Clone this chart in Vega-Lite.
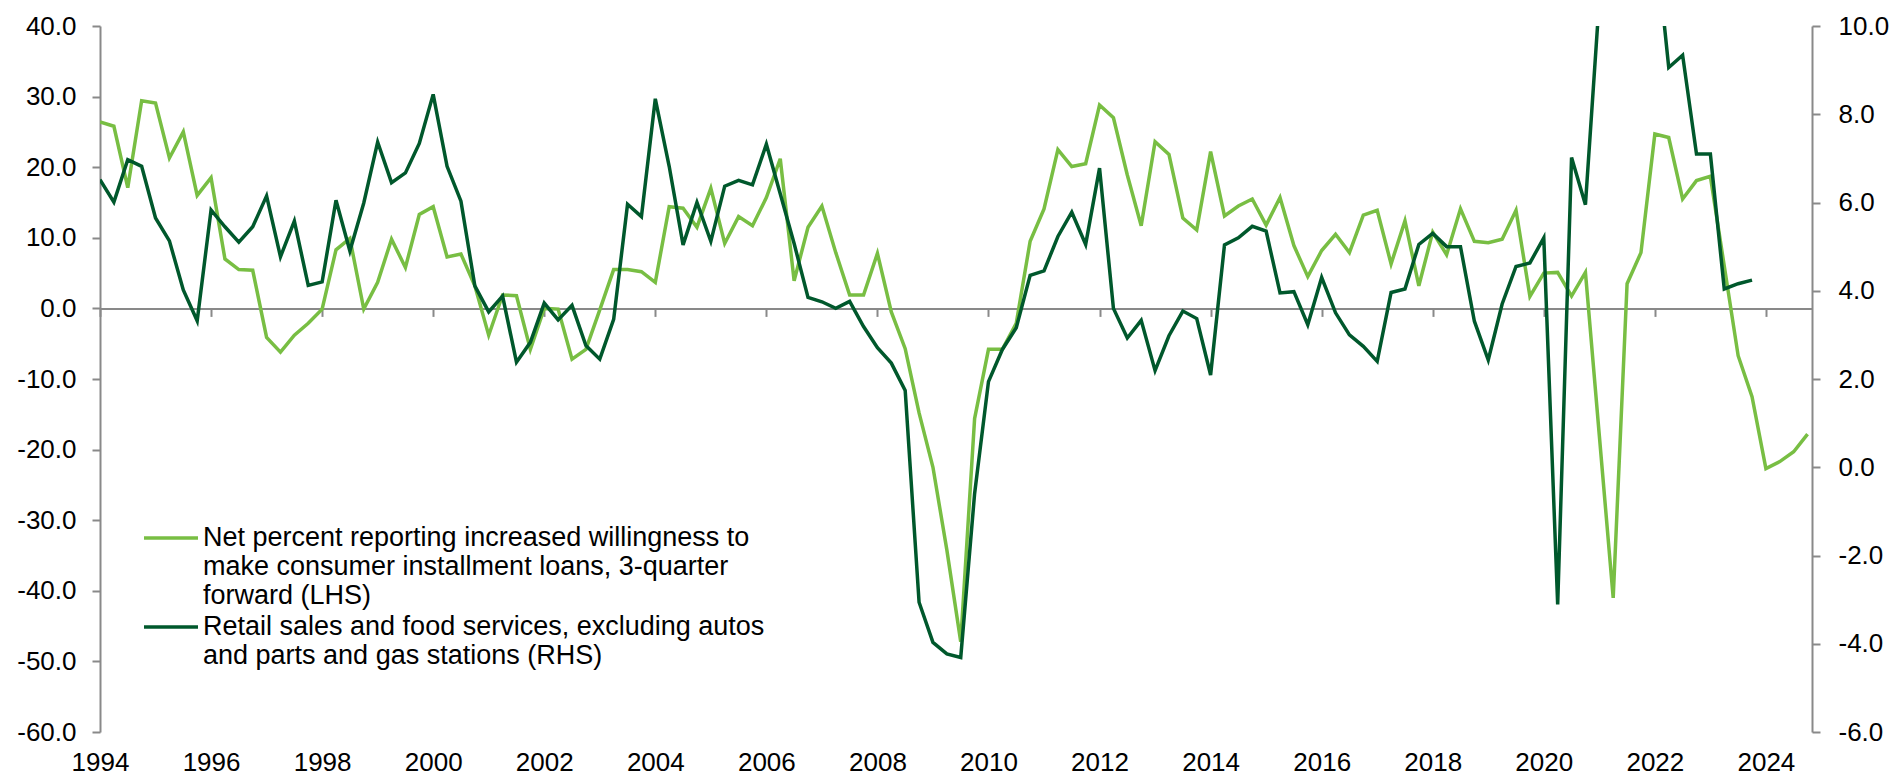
{
  "$schema": "https://vega.github.io/schema/vega-lite/v6.json",
  "width": 1712,
  "height": 706,
  "autosize": {"type": "none"},
  "padding": {"left": 100, "top": 26, "right": 78, "bottom": 46},
  "background": "white",
  "config": {
    "view": {"stroke": null},
    "axis": {"labelFont": "Liberation Sans", "labelFontSize": 26, "labelColor": "#000000", "domainColor": "#898989", "tickColor": "#898989", "domainWidth": 2, "tickWidth": 2, "grid": false, "title": null},
    "legend": {"orient": "none", "title": null, "symbolType": "stroke", "symbolSize": 2916, "symbolStrokeWidth": 3.5, "labelFont": "Liberation Sans", "labelFontSize": 27, "labelColor": "#000000", "labelLimit": 2000, "padding": 0, "labelOffset": 3}
  },
  "data": {"values": [
    {"time":1994.0,"series":"loans","value":26.4},{"time":1994.25,"series":"loans","value":25.8},{"time":1994.5,"series":"loans","value":17.1},{"time":1994.75,"series":"loans","value":29.4},
    {"time":1995.0,"series":"loans","value":29.1},{"time":1995.25,"series":"loans","value":21.3},{"time":1995.5,"series":"loans","value":25.0},{"time":1995.75,"series":"loans","value":16.0},
    {"time":1996.0,"series":"loans","value":18.5},{"time":1996.25,"series":"loans","value":7.0},{"time":1996.5,"series":"loans","value":5.5},{"time":1996.75,"series":"loans","value":5.4},
    {"time":1997.0,"series":"loans","value":-4.1},{"time":1997.25,"series":"loans","value":-6.2},{"time":1997.5,"series":"loans","value":-3.8},{"time":1997.75,"series":"loans","value":-2.1},
    {"time":1998.0,"series":"loans","value":-0.1},{"time":1998.25,"series":"loans","value":8.3},{"time":1998.5,"series":"loans","value":9.9},{"time":1998.75,"series":"loans","value":-0.1},
    {"time":1999.0,"series":"loans","value":3.7},{"time":1999.25,"series":"loans","value":9.8},{"time":1999.5,"series":"loans","value":5.8},{"time":1999.75,"series":"loans","value":13.3},
    {"time":2000.0,"series":"loans","value":14.4},{"time":2000.25,"series":"loans","value":7.3},{"time":2000.5,"series":"loans","value":7.7},{"time":2000.75,"series":"loans","value":3.2},
    {"time":2001.0,"series":"loans","value":-3.8},{"time":2001.25,"series":"loans","value":1.9},{"time":2001.5,"series":"loans","value":1.8},{"time":2001.75,"series":"loans","value":-5.8},
    {"time":2002.0,"series":"loans","value":0.0},{"time":2002.25,"series":"loans","value":-0.1},{"time":2002.5,"series":"loans","value":-7.2},{"time":2002.75,"series":"loans","value":-5.8},
    {"time":2003.0,"series":"loans","value":-0.2},{"time":2003.25,"series":"loans","value":5.5},{"time":2003.5,"series":"loans","value":5.5},{"time":2003.75,"series":"loans","value":5.2},
    {"time":2004.0,"series":"loans","value":3.7},{"time":2004.25,"series":"loans","value":14.4},{"time":2004.5,"series":"loans","value":14.2},{"time":2004.75,"series":"loans","value":11.5},
    {"time":2005.0,"series":"loans","value":17.0},{"time":2005.25,"series":"loans","value":9.2},{"time":2005.5,"series":"loans","value":13.0},{"time":2005.75,"series":"loans","value":11.7},
    {"time":2006.0,"series":"loans","value":15.7},{"time":2006.25,"series":"loans","value":21.2},{"time":2006.5,"series":"loans","value":3.9},{"time":2006.75,"series":"loans","value":11.5},
    {"time":2007.0,"series":"loans","value":14.5},{"time":2007.25,"series":"loans","value":7.9},{"time":2007.5,"series":"loans","value":1.9},{"time":2007.75,"series":"loans","value":1.9},
    {"time":2008.0,"series":"loans","value":7.8},{"time":2008.25,"series":"loans","value":-0.5},{"time":2008.5,"series":"loans","value":-5.7},{"time":2008.75,"series":"loans","value":-14.8},
    {"time":2009.0,"series":"loans","value":-22.5},{"time":2009.25,"series":"loans","value":-34.2},{"time":2009.5,"series":"loans","value":-47.2},{"time":2009.75,"series":"loans","value":-15.6},
    {"time":2010.0,"series":"loans","value":-5.8},{"time":2010.25,"series":"loans","value":-5.8},{"time":2010.5,"series":"loans","value":-2.1},{"time":2010.75,"series":"loans","value":9.5},
    {"time":2011.0,"series":"loans","value":14.1},{"time":2011.25,"series":"loans","value":22.5},{"time":2011.5,"series":"loans","value":20.1},{"time":2011.75,"series":"loans","value":20.5},
    {"time":2012.0,"series":"loans","value":28.8},{"time":2012.25,"series":"loans","value":27.0},{"time":2012.5,"series":"loans","value":18.9},{"time":2012.75,"series":"loans","value":11.7},
    {"time":2013.0,"series":"loans","value":23.6},{"time":2013.25,"series":"loans","value":21.8},{"time":2013.5,"series":"loans","value":12.8},{"time":2013.75,"series":"loans","value":11.1},
    {"time":2014.0,"series":"loans","value":22.2},{"time":2014.25,"series":"loans","value":13.1},{"time":2014.5,"series":"loans","value":14.5},{"time":2014.75,"series":"loans","value":15.5},
    {"time":2015.0,"series":"loans","value":11.8},{"time":2015.25,"series":"loans","value":15.7},{"time":2015.5,"series":"loans","value":8.9},{"time":2015.75,"series":"loans","value":4.5},
    {"time":2016.0,"series":"loans","value":8.2},{"time":2016.25,"series":"loans","value":10.5},{"time":2016.5,"series":"loans","value":7.9},{"time":2016.75,"series":"loans","value":13.2},
    {"time":2017.0,"series":"loans","value":13.9},{"time":2017.25,"series":"loans","value":6.3},{"time":2017.5,"series":"loans","value":12.4},{"time":2017.75,"series":"loans","value":3.2},
    {"time":2018.0,"series":"loans","value":10.8},{"time":2018.25,"series":"loans","value":7.6},{"time":2018.5,"series":"loans","value":14.1},{"time":2018.75,"series":"loans","value":9.5},
    {"time":2019.0,"series":"loans","value":9.3},{"time":2019.25,"series":"loans","value":9.8},{"time":2019.5,"series":"loans","value":13.9},{"time":2019.75,"series":"loans","value":1.7},
    {"time":2020.0,"series":"loans","value":5.0},{"time":2020.25,"series":"loans","value":5.1},{"time":2020.5,"series":"loans","value":1.75},{"time":2020.75,"series":"loans","value":5.1},
    {"time":2021.0,"series":"loans","value":-18.0},{"time":2021.25,"series":"loans","value":-41.0},{"time":2021.5,"series":"loans","value":3.5},{"time":2021.75,"series":"loans","value":7.9},
    {"time":2022.0,"series":"loans","value":24.7},{"time":2022.25,"series":"loans","value":24.2},{"time":2022.5,"series":"loans","value":15.5},{"time":2022.75,"series":"loans","value":18.1},
    {"time":2023.0,"series":"loans","value":18.7},{"time":2023.25,"series":"loans","value":6.0},{"time":2023.5,"series":"loans","value":-6.7},{"time":2023.75,"series":"loans","value":-12.5},
    {"time":2024.0,"series":"loans","value":-22.7},{"time":2024.25,"series":"loans","value":-21.7},{"time":2024.5,"series":"loans","value":-20.3},{"time":2024.75,"series":"loans","value":-17.8},
    {"time":1994.0,"series":"retail","value":6.52},{"time":1994.25,"series":"retail","value":6.01},{"time":1994.5,"series":"retail","value":6.97},{"time":1994.75,"series":"retail","value":6.82},
    {"time":1995.0,"series":"retail","value":5.65},{"time":1995.25,"series":"retail","value":5.13},{"time":1995.5,"series":"retail","value":4.02},{"time":1995.75,"series":"retail","value":3.32},
    {"time":1996.0,"series":"retail","value":5.83},{"time":1996.25,"series":"retail","value":5.45},{"time":1996.5,"series":"retail","value":5.10},{"time":1996.75,"series":"retail","value":5.45},
    {"time":1997.0,"series":"retail","value":6.15},{"time":1997.25,"series":"retail","value":4.77},{"time":1997.5,"series":"retail","value":5.58},{"time":1997.75,"series":"retail","value":4.12},
    {"time":1998.0,"series":"retail","value":4.20},{"time":1998.25,"series":"retail","value":6.05},{"time":1998.5,"series":"retail","value":4.90},{"time":1998.75,"series":"retail","value":5.99},
    {"time":1999.0,"series":"retail","value":7.37},{"time":1999.25,"series":"retail","value":6.45},{"time":1999.5,"series":"retail","value":6.67},{"time":1999.75,"series":"retail","value":7.34},
    {"time":2000.0,"series":"retail","value":8.45},{"time":2000.25,"series":"retail","value":6.82},{"time":2000.5,"series":"retail","value":6.03},{"time":2000.75,"series":"retail","value":4.11},
    {"time":2001.0,"series":"retail","value":3.52},{"time":2001.25,"series":"retail","value":3.88},{"time":2001.5,"series":"retail","value":2.38},{"time":2001.75,"series":"retail","value":2.83},
    {"time":2002.0,"series":"retail","value":3.72},{"time":2002.25,"series":"retail","value":3.34},{"time":2002.5,"series":"retail","value":3.67},{"time":2002.75,"series":"retail","value":2.76},
    {"time":2003.0,"series":"retail","value":2.45},{"time":2003.25,"series":"retail","value":3.35},{"time":2003.5,"series":"retail","value":5.96},{"time":2003.75,"series":"retail","value":5.68},
    {"time":2004.0,"series":"retail","value":8.35},{"time":2004.25,"series":"retail","value":6.82},{"time":2004.5,"series":"retail","value":5.04},{"time":2004.75,"series":"retail","value":6.0},
    {"time":2005.0,"series":"retail","value":5.12},{"time":2005.25,"series":"retail","value":6.37},{"time":2005.5,"series":"retail","value":6.5},{"time":2005.75,"series":"retail","value":6.4},
    {"time":2006.0,"series":"retail","value":7.32},{"time":2006.25,"series":"retail","value":6.2},{"time":2006.5,"series":"retail","value":5.07},{"time":2006.75,"series":"retail","value":3.85},
    {"time":2007.0,"series":"retail","value":3.75},{"time":2007.25,"series":"retail","value":3.6},{"time":2007.5,"series":"retail","value":3.76},{"time":2007.75,"series":"retail","value":3.19},
    {"time":2008.0,"series":"retail","value":2.71},{"time":2008.25,"series":"retail","value":2.36},{"time":2008.5,"series":"retail","value":1.74},{"time":2008.75,"series":"retail","value":-3.06},
    {"time":2009.0,"series":"retail","value":-3.97},{"time":2009.25,"series":"retail","value":-4.23},{"time":2009.5,"series":"retail","value":-4.31},{"time":2009.75,"series":"retail","value":-0.6},
    {"time":2010.0,"series":"retail","value":1.94},{"time":2010.25,"series":"retail","value":2.67},{"time":2010.5,"series":"retail","value":3.16},{"time":2010.75,"series":"retail","value":4.35},
    {"time":2011.0,"series":"retail","value":4.45},{"time":2011.25,"series":"retail","value":5.23},{"time":2011.5,"series":"retail","value":5.78},{"time":2011.75,"series":"retail","value":5.05},
    {"time":2012.0,"series":"retail","value":6.78},{"time":2012.25,"series":"retail","value":3.6},{"time":2012.5,"series":"retail","value":2.93},{"time":2012.75,"series":"retail","value":3.33},
    {"time":2013.0,"series":"retail","value":2.19},{"time":2013.25,"series":"retail","value":2.98},{"time":2013.5,"series":"retail","value":3.54},{"time":2013.75,"series":"retail","value":3.37},
    {"time":2014.0,"series":"retail","value":2.09},{"time":2014.25,"series":"retail","value":5.04},{"time":2014.5,"series":"retail","value":5.2},{"time":2014.75,"series":"retail","value":5.46},
    {"time":2015.0,"series":"retail","value":5.35},{"time":2015.25,"series":"retail","value":3.95},{"time":2015.5,"series":"retail","value":3.98},{"time":2015.75,"series":"retail","value":3.23},
    {"time":2016.0,"series":"retail","value":4.3},{"time":2016.25,"series":"retail","value":3.5},{"time":2016.5,"series":"retail","value":3.0},{"time":2016.75,"series":"retail","value":2.74},
    {"time":2017.0,"series":"retail","value":2.4},{"time":2017.25,"series":"retail","value":3.96},{"time":2017.5,"series":"retail","value":4.04},{"time":2017.75,"series":"retail","value":5.05},
    {"time":2018.0,"series":"retail","value":5.3},{"time":2018.25,"series":"retail","value":5.0},{"time":2018.5,"series":"retail","value":5.0},{"time":2018.75,"series":"retail","value":3.31},
    {"time":2019.0,"series":"retail","value":2.43},{"time":2019.25,"series":"retail","value":3.7},{"time":2019.5,"series":"retail","value":4.55},{"time":2019.75,"series":"retail","value":4.63},
    {"time":2020.0,"series":"retail","value":5.2},{"time":2020.25,"series":"retail","value":-3.11},{"time":2020.5,"series":"retail","value":7.02},{"time":2020.75,"series":"retail","value":5.95},
    {"time":2021.0,"series":"retail","value":10.6},{"time":2021.25,"series":"retail","value":22.0},{"time":2021.5,"series":"retail","value":14.5},{"time":2021.75,"series":"retail","value":14.5},
    {"time":2022.0,"series":"retail","value":12.1},{"time":2022.25,"series":"retail","value":9.06},{"time":2022.5,"series":"retail","value":9.34},{"time":2022.75,"series":"retail","value":7.1},
    {"time":2023.0,"series":"retail","value":7.1},{"time":2023.25,"series":"retail","value":4.04},{"time":2023.5,"series":"retail","value":4.16},{"time":2023.75,"series":"retail","value":4.24}
  ]},
  "layer": [
    {
      "transform": [{"filter": "datum.series === 'loans'"}],
      "mark": {"type": "line", "strokeWidth": 3.5, "clip": true},
      "encoding": {
        "x": {"field": "time", "type": "quantitative",
              "scale": {"domain": [1994, 2024.83], "nice": false, "zero": false},
              "axis": {"orient": "bottom", "values": [1994,1996,1998,2000,2002,2004,2006,2008,2010,2012,2014,2016,2018,2020,2022,2024], "format": "d", "domain": false, "ticks": false, "labelPadding": 17, "labelFlush": false, "labelOverlap": false, "labelBound": false}},
        "y": {"field": "value", "type": "quantitative",
              "scale": {"domain": [-60, 40], "nice": false, "zero": false},
              "axis": {"orient": "left", "values": [-60,-50,-40,-30,-20,-10,0,10,20,30,40], "labelExpr": "(datum.value < 0 ? '-' : '') + format(abs(datum.value), '.1f')", "tickSize": 8, "labelPadding": 16}},
        "color": {"field": "series", "type": "nominal",
                  "scale": {"domain": ["loans"], "range": ["#78BE43"]},
                  "legend": {"legendX": 42, "legendY": 483,
                             "labelExpr": "['Net percent reporting increased willingness to', 'make consumer installment loans, 3-quarter', 'forward (LHS)']"}}
      }
    },
    {
      "transform": [{"filter": "datum.series === 'retail'"}],
      "mark": {"type": "line", "strokeWidth": 3.5, "clip": true},
      "encoding": {
        "x": {"field": "time", "type": "quantitative",
              "scale": {"domain": [1994, 2024.83], "nice": false, "zero": false},
              "axis": {"orient": "bottom", "offset": -423.6, "values": [1994,1996,1998,2000,2002,2004,2006,2008,2010,2012,2014,2016,2018,2020,2022,2024], "labels": false, "domain": true, "ticks": true, "tickSize": 8}},
        "y": {"field": "value", "type": "quantitative",
              "scale": {"domain": [-6, 10], "nice": false, "zero": false},
              "axis": {"orient": "right", "values": [-6,-4,-2,0,2,4,6,8,10], "labelExpr": "(datum.value < 0 ? '-' : '') + format(abs(datum.value), '.1f')", "tickSize": 8, "labelPadding": 18}},
        "color": {"field": "series", "type": "nominal",
                  "scale": {"domain": ["retail"], "range": ["#00582C"]},
                  "legend": {"legendX": 42, "legendY": 572,
                             "labelExpr": "['Retail sales and food services, excluding autos', 'and parts and gas stations (RHS)']"}}
      }
    }
  ],
  "resolve": {"scale": {"y": "independent", "color": "independent"}, "axis": {"x": "independent", "y": "independent"}, "legend": {"color": "independent"}}
}
